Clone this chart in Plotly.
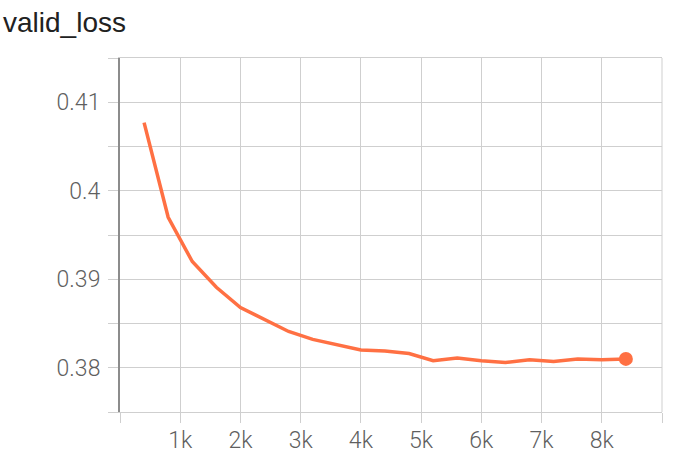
import plotly.graph_objects as go

# ---- data ----
steps = [400, 800, 1200, 1600, 2000, 2400, 2800, 3200, 3600, 4000, 4400,
         4800, 5200, 5600, 6000, 6400, 6800, 7200, 7600, 8000, 8400]
valid_loss = [0.4077, 0.3970, 0.3920, 0.3891, 0.3868, 0.3854, 0.3841, 0.3832,
              0.3826, 0.3820, 0.3819, 0.3816, 0.3808, 0.3811, 0.3808, 0.3806,
              0.3809, 0.3807, 0.3810, 0.3809, 0.3810]

x_tickvals = [0, 1000, 2000, 3000, 4000, 5000, 6000, 7000, 8000, 9000]
x_ticktext = ["", "1k", "2k", "3k", "4k", "5k", "6k", "7k", "8k", ""]
y_tickvals = [0.38, 0.39, 0.40, 0.41]
y_ticktext = ["0.38", "0.39", "0.4", "0.41"]
y_minorvals = [0.375, 0.385, 0.395, 0.405, 0.415]

title_text = "valid_loss"

LINE = "#ff7043"
GRID = "#cfcfcf"
TICKFONT = dict(family="Roboto", size=23, color="#5f5f5f", weight=300)

fig = go.Figure()
fig.add_trace(go.Scatter(x=steps, y=valid_loss, mode="lines",
                         line=dict(color=LINE, width=3.5), hoverinfo="skip"))
fig.add_trace(go.Scatter(x=[steps[-1]], y=[valid_loss[-1]], mode="markers",
                         marker=dict(color=LINE, size=14), hoverinfo="skip"))

fig.update_layout(
    template="none",
    width=684, height=466,
    margin=dict(l=120, r=22, t=58, b=54, autoexpand=False),
    paper_bgcolor="white", plot_bgcolor="white",
    showlegend=False,
    title=dict(text=title_text, xref="container", yref="container",
               x=3/684, xanchor="left", y=1-22/466, yanchor="middle",
               font=dict(family="Liberation Sans", size=28, color="#212121")),
    xaxis=dict(range=[0, 9000], tickmode="array", tickvals=x_tickvals,
               ticktext=x_ticktext, showgrid=True, gridcolor=GRID, gridwidth=1,
               zeroline=False, showline=True, mirror=True, linecolor=GRID,
               linewidth=1, ticks="outside", ticklen=10,
               tickcolor=GRID, tickwidth=1, tickfont=TICKFONT,
               ticklabelstandoff=-3, automargin=False),
    yaxis=dict(range=[0.375, 0.415], tickmode="array", tickvals=y_tickvals,
               ticktext=y_ticktext, showgrid=True, gridcolor=GRID, gridwidth=1,
               zeroline=False, showline=True, linecolor="#8c8c8c", linewidth=2,
               ticks="outside", ticklen=10, tickcolor=GRID, tickwidth=1,
               tickfont=TICKFONT, ticklabelstandoff=3, automargin=False,
               minor=dict(tickmode="array", tickvals=y_minorvals, showgrid=True,
                          gridcolor=GRID, gridwidth=1, ticks="outside",
                          ticklen=10, tickcolor=GRID, tickwidth=1)),
    shapes=[dict(type="line", xref="paper", yref="paper", x0=1, x1=1,
                 y0=0, y1=1, line=dict(color=GRID, width=1), layer="below")],
)

fig.write_html("out.html",
               config={"displayModeBar": False, "staticPlot": True},
               post_script="document.body.style.margin='0';"
                           "document.body.style.overflow='hidden';")
